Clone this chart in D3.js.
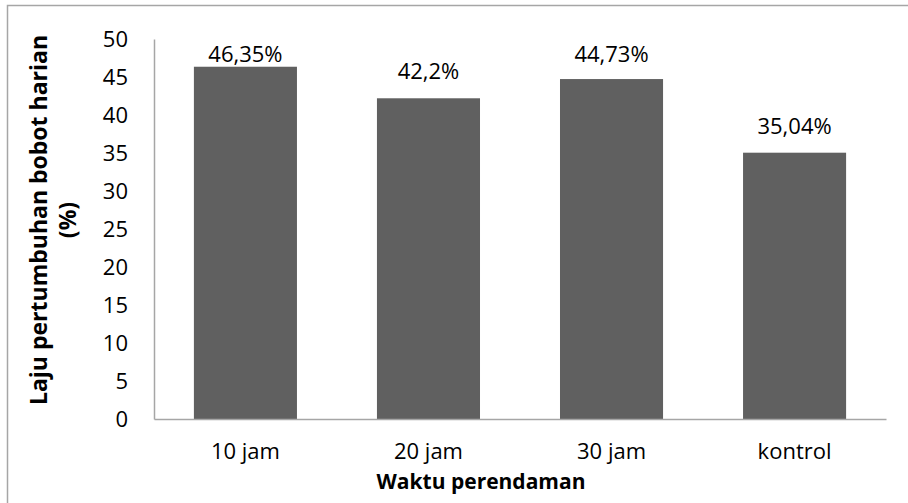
<!DOCTYPE html>
<html>
<head>
<meta charset="utf-8">
<script src="https://cdn.jsdelivr.net/npm/d3@7"></script>
<style>
  body { margin: 0; background: #fff; }
  svg { display: block; font-family: "Open Sans", sans-serif; }
</style>
</head>
<body>
<div id="viz-container"></div>
<script>
// data
let categories = ["10 jam", "20 jam", "30 jam", "kontrol"];
let values = [46.35, 42.2, 44.73, 35.04];
let valueLabels = ["46,35%", "42,2%", "44,73%", "35,04%"];
let yTicks = [0, 5, 10, 15, 20, 25, 30, 35, 40, 45, 50];

let viz = d3.select("#viz-container")
              .append("svg")
                .attr("width", 908)
                .attr("height", 503);

// chart border (runs off the right and bottom of the picture)
viz.append("rect")
    .attr("x", 7.5)
    .attr("y", 5.5)
    .attr("width", 1000)
    .attr("height", 1000)
    .attr("fill", "none")
    .attr("stroke", "#a6a6a6")
    .attr("stroke-width", 1.5);

let y = d3.scaleLinear().domain([0, 50]).range([419, 39]);
let x = d3.scaleBand().domain(categories).range([154, 886])
            .paddingInner(0.437).paddingOuter(0.218);

// bars
viz.selectAll("rect.bar").data(values).enter().append("rect")
    .attr("class", "bar")
    .attr("x", (d, i) => x(categories[i]))
    .attr("y", d => y(d))
    .attr("width", x.bandwidth())
    .attr("height", d => y(0) - y(d))
    .attr("fill", "#606060");

// value labels (kept inside the chart at the top, like excel does)
viz.selectAll("text.val").data(values).enter().append("text")
    .attr("class", "val")
    .attr("x", (d, i) => x(categories[i]) + x.bandwidth() / 2)
    .attr("y", d => Math.max(y(d) - 19, 62))
    .attr("text-anchor", "middle")
    .attr("font-size", 22)
    .attr("fill", "#000")
    .text((d, i) => valueLabels[i]);

// y axis
let yAxis = viz.append("g")
    .attr("transform", "translate(154,0)")
    .call(d3.axisLeft(y).tickValues(yTicks).tickSize(0).tickPadding(26));
yAxis.selectAll("text").attr("font-size", 22).attr("fill", "#000")
    .attr("font-family", "Open Sans, sans-serif");
yAxis.select(".domain").attr("stroke", "#a6a6a6").attr("stroke-width", 1.5);

// x axis
let xAxis = viz.append("g")
    .attr("transform", "translate(0,419)")
    .call(d3.axisBottom(x).tickSize(0).tickPadding(24));
xAxis.selectAll("text").attr("font-size", 22).attr("fill", "#000")
    .attr("font-family", "Open Sans, sans-serif");
xAxis.select(".domain").attr("stroke", "#a6a6a6").attr("stroke-width", 1.5);

// axis titles
viz.append("text")
    .attr("x", 481)
    .attr("y", 489)
    .attr("text-anchor", "middle")
    .attr("font-size", 21)
    .attr("font-weight", "bold")
    .text("Waktu perendaman");

let yTitle = viz.append("text")
    .attr("transform", "translate(0,220) rotate(-90)")
    .attr("text-anchor", "middle")
    .attr("font-size", 23)
    .attr("font-weight", "bold");
yTitle.append("tspan").attr("x", 0).attr("y", 47).text("Laju pertumbuhan bobot harian");
yTitle.append("tspan").attr("x", 0).attr("y", 76).text("(%)");
</script>
</body>
</html>
